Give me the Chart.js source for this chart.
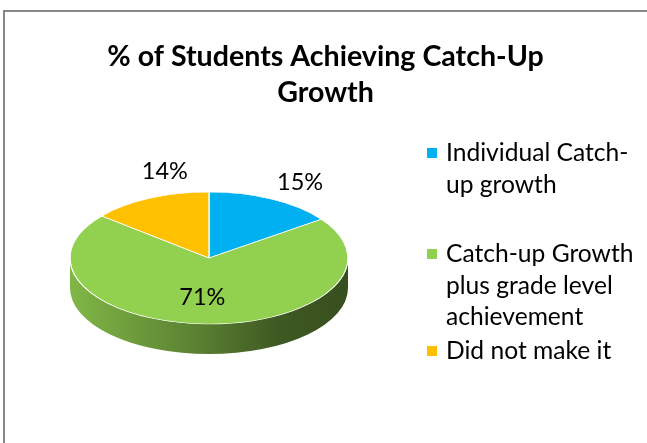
<!DOCTYPE html>
<html><head><meta charset="utf-8">
<script src="https://cdn.jsdelivr.net/npm/chart.js@4"></script>
<style>
html,body{margin:0;padding:0;background:#fff;overflow:hidden;width:647px;height:443px}
#frame{position:absolute;left:3px;top:10px;width:700px;height:500px;border-left:2px solid #878787;border-top:2px solid #878787}
canvas{position:absolute;left:0;top:0}
</style></head><body>
<div id="frame"></div>
<canvas id="c" width="647" height="443"></canvas>
<script>
// ---- data ----
const categories = ['Individual Catch-up growth', 'Catch-up Growth plus grade level achievement', 'Did not make it'];
const values = [15, 71, 14];
const sliceColors = ['#00B0F0', '#92D050', '#FFC000'];
const titleLines = ['% of Students Achieving Catch-Up', 'Growth'];

// ---- geometry / style of the 3D look ----
const GEOM = {cx: 209, cy: 258, rx: 139, ry: 66, depth: 30};
const LABEL = {font: '23.5px Lato', insideFactor: 0.6, nudge: [[28, -17], [-4, 0], [15, -27]]};
const LEGEND = {boxX: 427, boxSize: 10, textX: 446, lineH: 31.7, firstLineY: [153, 254, 351], maxWidth: 200, font: '24.6px Lato'};

function shade(hex, f) {
  const n = parseInt(hex.slice(1), 16);
  const r = (n >> 16) & 255, g = (n >> 8) & 255, b = n & 255;
  return 'rgb(' + Math.round(r * f) + ',' + Math.round(g * f) + ',' + Math.round(b * f) + ')';
}

const pie3d = {
  id: 'pie3d',
  beforeDatasetsDraw(chart) {
    const ctx = chart.ctx;
    const arcs = chart.getDatasetMeta(0).data;
    const {cx, cy, rx, ry, depth} = GEOM;
    ctx.save();
    arcs.forEach((arc, i) => {
      const col = sliceColors[i];
      for (const off of [-2 * Math.PI, 0, 2 * Math.PI]) {
        const s = Math.max(arc.startAngle, off), e = Math.min(arc.endAngle, off + Math.PI);
        if (e > s) {
          const g = ctx.createLinearGradient(cx - rx, 0, cx + rx, 0);
          g.addColorStop(0, shade(col, 0.88));
          g.addColorStop(0.45, shade(col, 0.62));
          g.addColorStop(0.75, shade(col, 0.43));
          g.addColorStop(1, shade(col, 0.38));
          ctx.beginPath();
          ctx.ellipse(cx, cy, rx, ry, 0, s, e, false);
          ctx.ellipse(cx, cy + depth, rx, ry, 0, e, s, true);
          ctx.closePath();
          ctx.fillStyle = g;
          ctx.fill();
        }
      }
    });
    const a0 = arcs[0];
    const R = a0.outerRadius;
    ctx.translate(cx, cy);
    ctx.scale(rx / R, ry / R);
    ctx.translate(-a0.x, -a0.y);
  },
  afterDatasetsDraw(chart) {
    const ctx = chart.ctx;
    ctx.restore();
    const arcs = chart.getDatasetMeta(0).data;
    const {cx, cy, rx, ry} = GEOM;
    const total = values.reduce((a, b) => a + b, 0);
    ctx.save();
    ctx.font = LABEL.font;
    ctx.fillStyle = '#000';
    ctx.textAlign = 'center';
    ctx.textBaseline = 'middle';
    arcs.forEach((arc, i) => {
      const mid = (arc.startAngle + arc.endAngle) / 2;
      const pct = values[i] / total;
      const f = pct > 0.3 ? LABEL.insideFactor : 1.0;
      const x = cx + rx * f * Math.cos(mid) + LABEL.nudge[i][0];
      const y = cy + ry * f * Math.sin(mid) + LABEL.nudge[i][1];
      ctx.fillText(Math.round(pct * 100) + '%', x, y);
    });
    ctx.restore();
  },
  afterDraw(chart) {
    const ctx = chart.ctx;
    ctx.save();
    ctx.font = LEGEND.font;
    ctx.textBaseline = 'middle';
    ctx.textAlign = 'left';
    categories.forEach((cat, i) => {
      const tokens = cat.split(/(?<=[\s-])/);
      const lines = [];
      let cur = '';
      tokens.forEach(t => {
        if (cur && ctx.measureText((cur + t).trim()).width > LEGEND.maxWidth) {
          lines.push(cur.trim());
          cur = t;
        } else cur += t;
      });
      if (cur) lines.push(cur.trim());
      const y0 = LEGEND.firstLineY[i];
      ctx.fillStyle = sliceColors[i];
      ctx.fillRect(LEGEND.boxX, y0 - LEGEND.boxSize / 2, LEGEND.boxSize, LEGEND.boxSize);
      ctx.fillStyle = '#000';
      lines.forEach((ln, k) => ctx.fillText(ln, LEGEND.textX, y0 + k * LEGEND.lineH));
    });
    ctx.restore();
  }
};

new Chart(document.getElementById('c'), {
  type: 'pie',
  data: {
    labels: categories,
    datasets: [{
      data: values,
      backgroundColor: sliceColors,
      borderColor: '#ffffff',
      borderWidth: 1.5,
      clip: false
    }]
  },
  options: {
    responsive: false,
    animation: false,
    devicePixelRatio: 1,
    events: [],
    layout: {padding: {left: 4}},
    plugins: {
      legend: {display: false},
      tooltip: {enabled: false},
      title: {
        display: true,
        text: titleLines,
        color: '#000',
        font: {family: 'Lato', size: 28.6, weight: 'bold', lineHeight: '36px'},
        padding: {top: 39, bottom: 10}
      }
    }
  },
  plugins: [pie3d]
});
</script>
</body></html>
